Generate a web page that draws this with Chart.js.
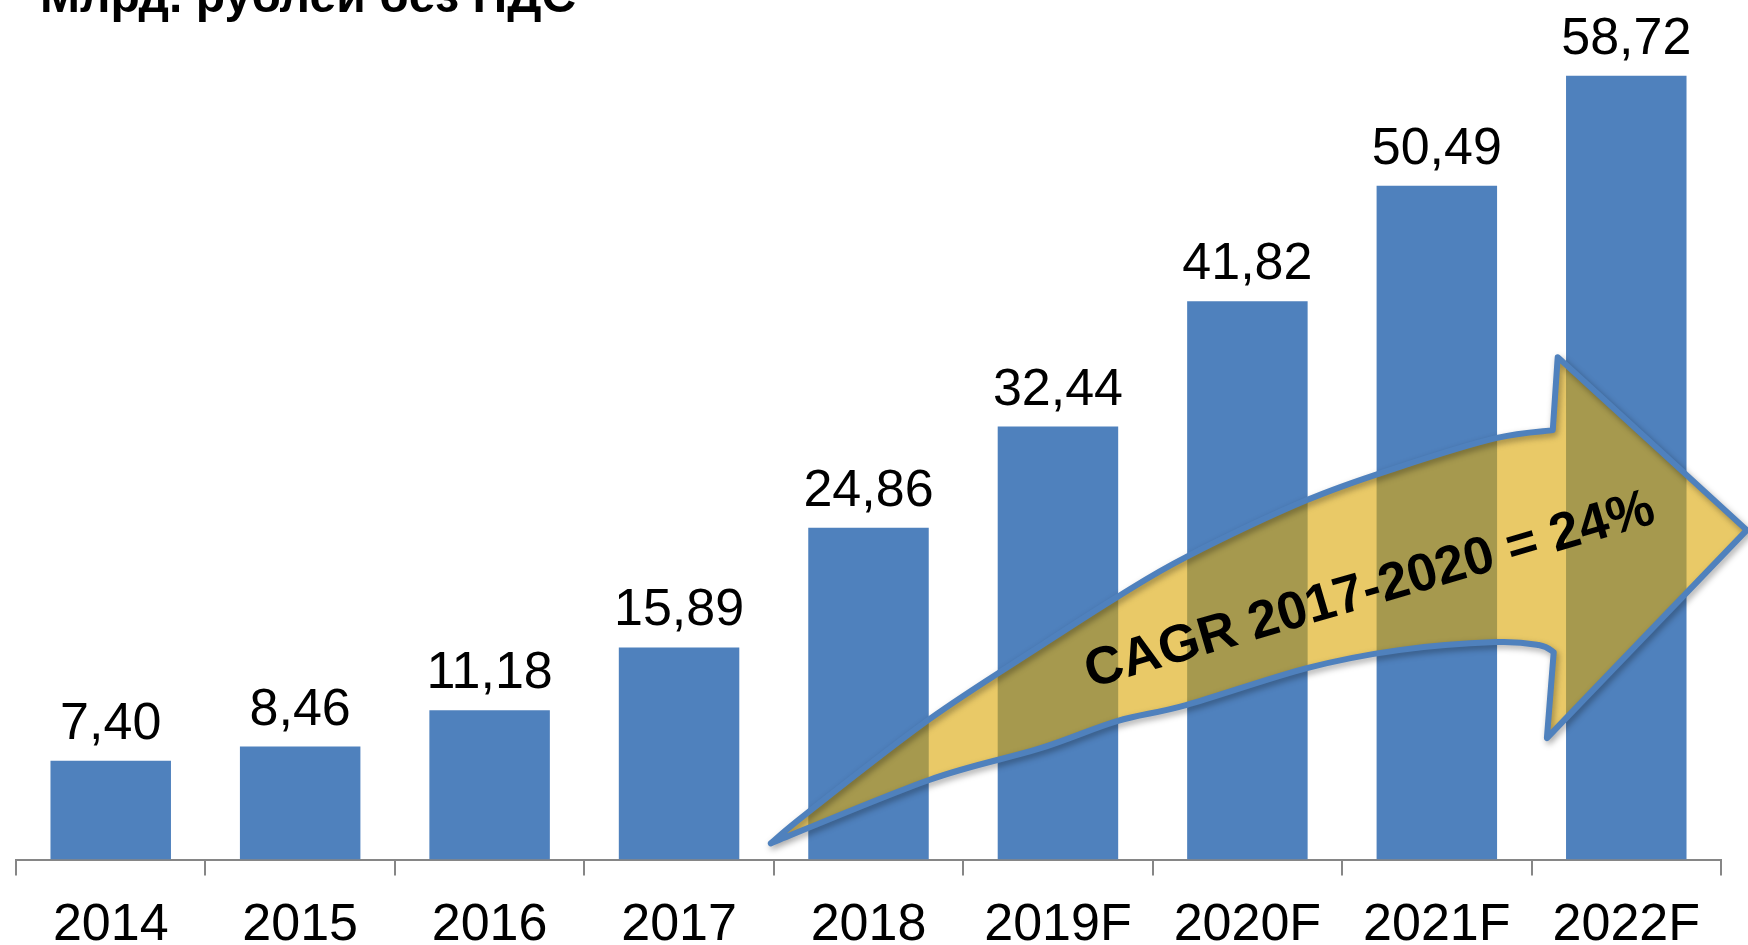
<!DOCTYPE html>
<html lang="ru">
<head>
<meta charset="utf-8">
<title>Млрд. рублей без НДС</title>
<script src="https://cdn.jsdelivr.net/npm/chart.js@4.4.1/dist/chart.umd.min.js"></script>
<style>
  html, body { margin: 0; padding: 0; background: #fff; overflow: hidden; }
  .wrap { position: relative; width: 1748px; height: 945px; }
</style>
</head>
<body>
<div class="wrap"><canvas id="marketChart"></canvas></div>
<script>
/* ================================================
   DATA
================================================ */
const YEARS  = ['2014', '2015', '2016', '2017', '2018', '2019F', '2020F', '2021F', '2022F'];
const VALUES = [7.40, 8.46, 11.18, 15.89, 24.86, 32.44, 41.82, 50.49, 58.72];

const TITLE     = 'Млрд. рублей без НДС';
const CAGR_TEXT = 'CAGR 2017-2020 = 24%';

const FONT      = "'Liberation Sans', Arial, sans-serif";
const BAR_BLUE  = '#4F81BD';
const AXIS_GREY = '#868686';

// arrow outline in scale units: [category index, value]
const ARROW_UPPER = [
  [3.484, 1.21], [3.676, 3.48], [4.320, 10.50], [4.900, 15.92], [5.312, 19.66],
  [5.676, 22.66], [6.314, 26.93], [6.800, 29.40], [7.311, 31.57], [7.612, 32.17],
];
const ARROW_HEAD = [[7.638, 37.64], [8.636, 24.68], [7.581, 9.10], [7.617, 15.54]];
const ARROW_LOWER = [
  [7.617, 15.54], [7.538, 16.07], [7.311, 16.29], [6.800, 15.69], [6.314, 14.34],
  [5.676, 11.57], [5.312, 10.37], [4.900, 8.30], [4.320, 5.96], [3.484, 1.21],
];
const CAGR_ANCHOR = [6.668, 19.06];

/* ================================================
   HELPERS
================================================ */
function fmt(v) {
  return v.toFixed(2).replace('.', ',');
}

// smooth curve through points (catmull-rom -> bezier)
function smoothThrough(ctx, pts, moveFirst) {
  if (moveFirst) ctx.moveTo(pts[0].x, pts[0].y);
  else ctx.lineTo(pts[0].x, pts[0].y);
  for (let i = 0; i < pts.length - 1; i++) {
    const p0 = pts[i - 1] || pts[i];
    const p1 = pts[i];
    const p2 = pts[i + 1];
    const p3 = pts[i + 2] || p2;
    ctx.bezierCurveTo(
      p1.x + (p2.x - p0.x) / 6, p1.y + (p2.y - p0.y) / 6,
      p2.x - (p3.x - p1.x) / 6, p2.y - (p3.y - p1.y) / 6,
      p2.x, p2.y
    );
  }
}

/* ================================================
   PLUGINS
================================================ */
const valueLabels = {
  id: 'valueLabels',
  afterDatasetsDraw(chart) {
    const ctx  = chart.ctx;
    const meta = chart.getDatasetMeta(0);
    ctx.save();
    ctx.font = `52px ${FONT}`;
    ctx.fillStyle = '#000';
    ctx.textAlign = 'center';
    ctx.textBaseline = 'alphabetic';
    meta.data.forEach((bar, i) => {
      ctx.fillText(fmt(VALUES[i]), bar.x, bar.y - 22);
    });
    ctx.restore();
  },
};

const cagrArrow = {
  id: 'cagrArrow',
  afterDatasetsDraw(chart) {
    const ctx = chart.ctx;
    const xs = chart.scales.x, ys = chart.scales.y;
    const toPx = p => ({ x: xs.getPixelForValue(p[0]), y: ys.getPixelForValue(p[1]) });

    const upper = ARROW_UPPER.map(toPx);
    const head  = ARROW_HEAD.map(toPx);
    const lower = ARROW_LOWER.map(toPx);

    const trace = () => {
      ctx.beginPath();
      smoothThrough(ctx, upper, true);
      head.forEach(p => ctx.lineTo(p.x, p.y));
      smoothThrough(ctx, lower, false);
      ctx.closePath();
    };

    ctx.save();
    trace();
    ctx.fillStyle = 'rgba(220, 168, 10, 0.62)';
    ctx.fill();

    ctx.shadowColor = 'rgba(0, 0, 0, 0.35)';
    ctx.shadowBlur = 6;
    ctx.shadowOffsetX = 2;
    ctx.shadowOffsetY = 3;
    ctx.lineJoin = 'round';
    ctx.lineWidth = 6;
    ctx.strokeStyle = BAR_BLUE;
    trace();
    ctx.stroke();
    ctx.restore();

    const a = toPx(CAGR_ANCHOR);
    ctx.save();
    ctx.translate(a.x, a.y);
    ctx.rotate(-16.3 * Math.PI / 180);
    ctx.font = `bold 53px ${FONT}`;
    ctx.fillStyle = '#000';
    ctx.textAlign = 'center';
    ctx.textBaseline = 'alphabetic';
    ctx.fillText(CAGR_TEXT, 0, 0);
    ctx.restore();
  },
};

const cornerTitle = {
  id: 'cornerTitle',
  afterDraw(chart) {
    const ctx = chart.ctx;
    ctx.save();
    ctx.font = `bold 48px ${FONT}`;
    ctx.fillStyle = '#000';
    ctx.textAlign = 'left';
    ctx.textBaseline = 'alphabetic';
    ctx.fillText(TITLE, 40, 12);
    ctx.restore();
  },
};

/* ================================================
   CHART
================================================ */
function buildChart() {
  const ctx = document.getElementById('marketChart');

  new Chart(ctx, {
    type: 'bar',
    data: {
      labels: YEARS,
      datasets: [{
        data: VALUES,
        backgroundColor: BAR_BLUE,
        borderWidth: 0,
        categoryPercentage: 1,
        barPercentage: 0.636,
      }],
    },
    options: {
      responsive: true,
      maintainAspectRatio: false,
      animation: false,
      devicePixelRatio: 1,
      layout: { padding: { left: 16, right: 27, top: 0, bottom: 0 } },
      plugins: {
        legend: { display: false },
        tooltip: { enabled: false },
      },
      scales: {
        x: {
          afterFit(scale) { scale.height = 85.5; },
          grid: {
            drawOnChartArea: false,
            drawTicks: true,
            tickLength: 16,
            color: AXIS_GREY,
            lineWidth: 2,
          },
          border: { display: true, color: AXIS_GREY, width: 2 },
          ticks: {
            color: '#000',
            padding: 19,
            maxRotation: 0,
            autoSkip: false,
            font: { family: FONT, size: 52 },
          },
        },
        y: {
          display: false,
          min: 0,
          max: 64.4,
        },
      },
    },
    plugins: [valueLabels, cagrArrow, cornerTitle],
  });
}

buildChart();
</script>
</body>
</html>
